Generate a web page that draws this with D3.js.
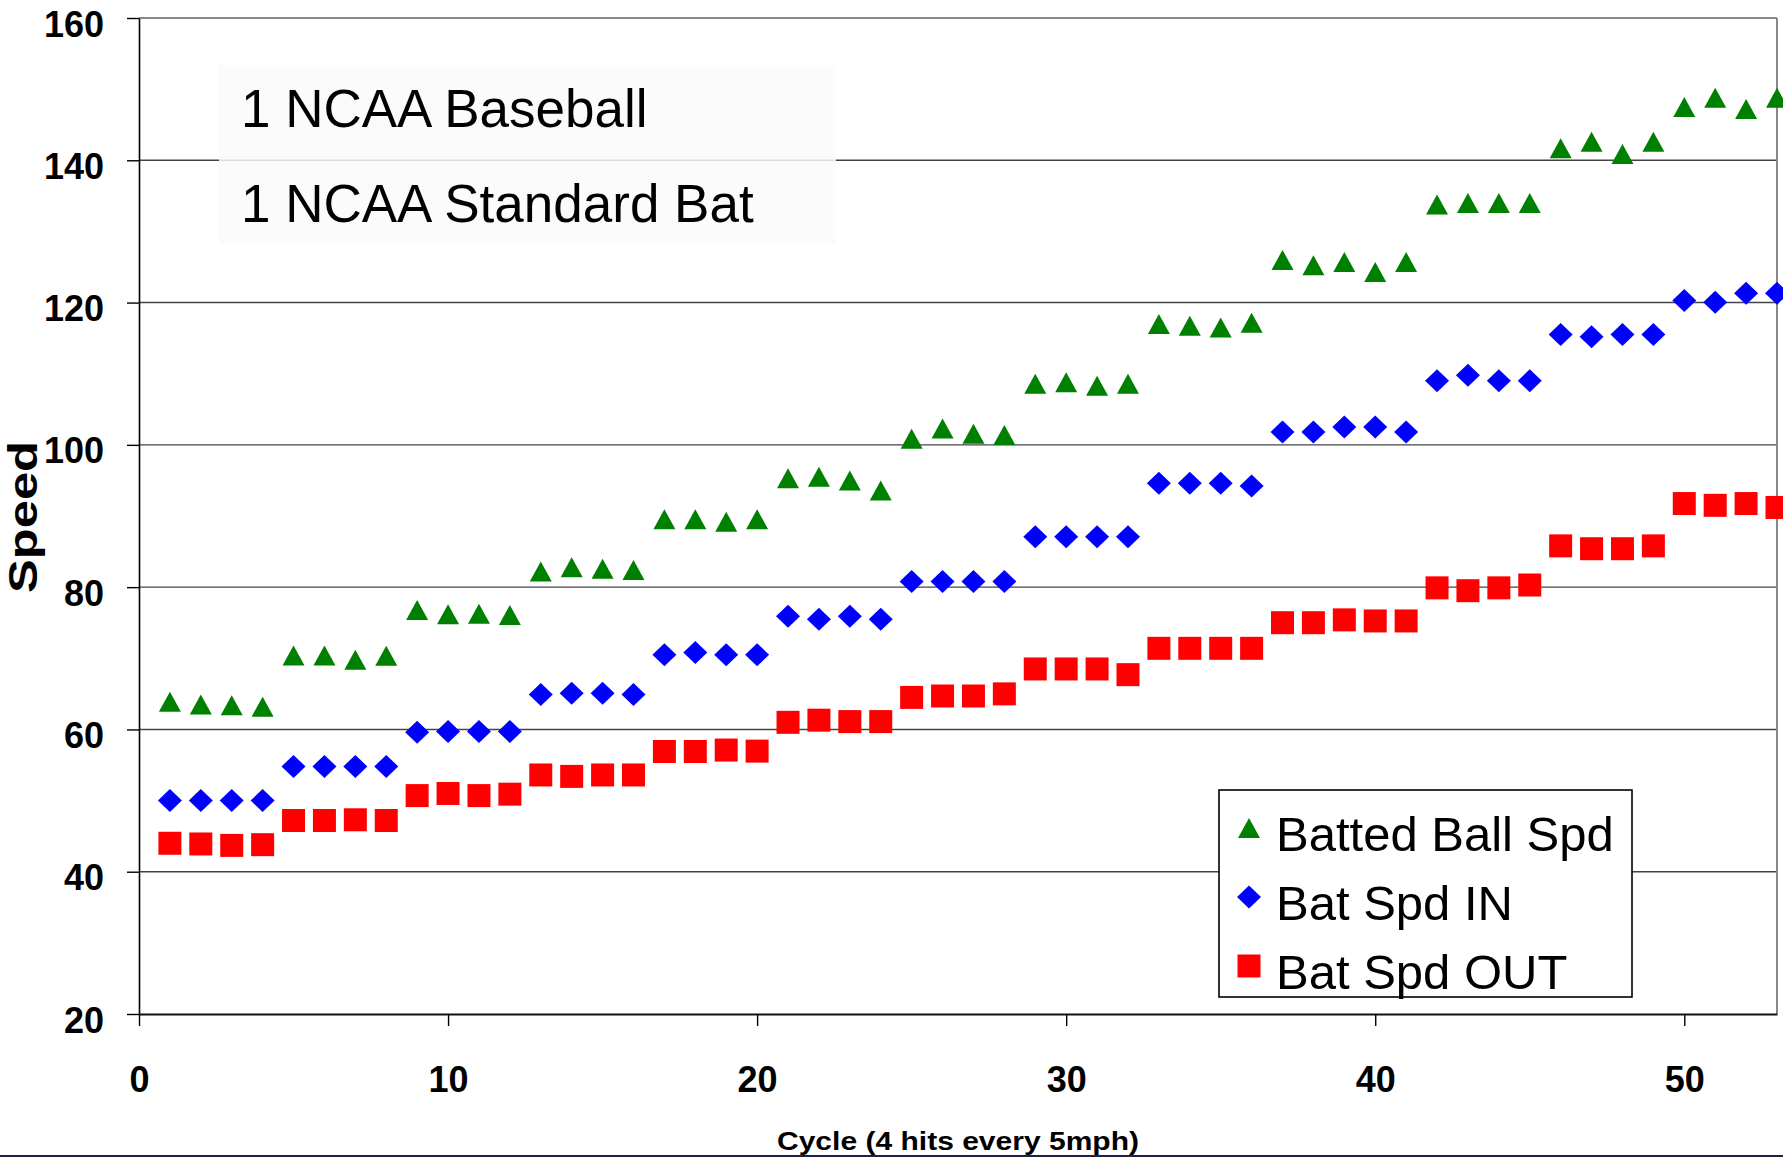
<!DOCTYPE html>
<html>
<head>
<meta charset="utf-8">
<script src="https://cdn.jsdelivr.net/npm/d3@7"></script>
<style>
  html, body { margin: 0; padding: 0; background: #ffffff; }
  svg { display: block; }
  text { font-family: "Liberation Sans", Arial, Helvetica, sans-serif; }
</style>
</head>
<body>
<svg id="chart" width="1783" height="1157"></svg>
<script>
// ---------- data ----------
const cycles = [1,2,3,4,5,6,7,8,9,10,11,12,13,14,15,16,17,18,19,20,21,22,23,24,25,26,27,28,29,30,31,32,33,34,35,36,37,38,39,40,41,42,43,44,45,46,47,48,49,50,51,52,53];

const battedBallSpd = [63.9,63.5,63.4,63.2, 70.4,70.4,69.8,70.35, 76.8,76.2,76.25,76.1, 82.2,82.8,82.6,82.4,
  89.55,89.55,89.2,89.55, 95.3,95.5,95.0,93.6, 100.85,102.3,101.55,101.4, 108.6,108.8,108.3,108.6,
  117.0,116.75,116.5,117.15, 126.0,125.25,125.7,124.3,125.7, 133.8,134.0,134.0,134.0,
  141.7,142.6,140.9,142.6, 147.5,148.8,147.2,148.8];

const batSpdIn = [50.0,50.0,50.0,50.0, 54.8,54.8,54.8,54.8, 59.6,59.7,59.7,59.7, 64.9,65.1,65.1,64.9,
  70.5,70.8,70.5,70.5, 75.9,75.5,75.9,75.5, 80.8,80.8,80.8,80.8, 87.1,87.1,87.1,87.1,
  94.6,94.6,94.6,94.2, 101.8,101.8,102.5,102.5,101.8, 109.0,109.8,109.0,109.0,
  115.5,115.2,115.5,115.5, 120.3,120.05,121.3,121.3];

const batSpdOut = [44.0,43.9,43.7,43.8, 47.2,47.2,47.3,47.2, 50.7,51.0,50.7,50.9, 53.6,53.4,53.6,53.6,
  56.9,56.9,57.1,56.95, 61.0,61.3,61.1,61.1, 64.5,64.7,64.7,65.0, 68.5,68.5,68.5,67.7,
  71.4,71.4,71.4,71.4, 75.0,75.0,75.4,75.25,75.25, 79.9,79.5,79.9,80.3,
  85.8,85.4,85.4,85.8, 91.75,91.5,91.75,91.2];

const seriesNames = ["Batted Ball Spd", "Bat Spd IN", "Bat Spd OUT"];
const yTicks = [20,40,60,80,100,120,140,160];
const xTicks = [0,10,20,30,40,50];
const annotationLines = ["1 NCAA Baseball", "1 NCAA Standard Bat"];
const xTitle = "Cycle (4 hits every 5mph)";
const yTitle = "Speed";

// ---------- layout ----------
const svg = d3.select("#chart");
const L = 139, R = 1777, T = 18, B = 1014;

const x = d3.scaleLinear().domain([0, 53]).range([L, R]);
const y = d3.scaleLinear().domain([20, 160]).range([B, T]);

const colors = { tri: "#008000", dia: "#0000ff", sq: "#ff0000" };

// gridlines
svg.append("g").selectAll("line")
  .data(yTicks.filter(v => v > 20 && v < 160))
  .join("line")
  .attr("x1", L).attr("x2", R)
  .attr("y1", d => y(d)).attr("y2", d => y(d))
  .attr("stroke", "#444").attr("stroke-width", 1.4);

// top & right border (gray)
svg.append("line").attr("x1", L).attr("x2", R).attr("y1", y(160)).attr("y2", y(160))
  .attr("stroke", "#888").attr("stroke-width", 2);
svg.append("line").attr("x1", R).attr("x2", R).attr("y1", T).attr("y2", B)
  .attr("stroke", "#888").attr("stroke-width", 2);

// annotation box
const annG = svg.append("g");
annG.append("rect").attr("x", 219).attr("y", 65).attr("width", 617).attr("height", 178)
  .attr("fill", "#fafafa").attr("opacity", 0.85);
annG.selectAll("text").data(annotationLines).join("text")
  .attr("x", 241).attr("y", (d, i) => 127 + i * 95)
  .attr("font-size", 53).attr("fill", "#000")
  .text(d => d);

// axes
const yAxis = d3.axisLeft(y).tickValues(yTicks).tickSize(12).tickSizeOuter(0);
const gy = svg.append("g").attr("transform", `translate(${L},0)`).call(yAxis);
gy.select(".domain").attr("stroke", "#000").attr("stroke-width", 1.6);
gy.selectAll(".tick line").attr("stroke", "#000").attr("stroke-width", 1.4);
gy.selectAll(".tick text")
  .attr("x", -35).attr("dy", 0).attr("y", 18)
  .attr("font-size", 36).attr("font-weight", "bold").attr("fill", "#000")
  .attr("font-family", "Liberation Sans, Arial, sans-serif");

const xAxis = d3.axisBottom(x).tickValues(xTicks).tickSize(12).tickSizeOuter(0).tickFormat(d3.format("d"));
const gx = svg.append("g").attr("transform", `translate(0,${B})`).call(xAxis);
gx.select(".domain").attr("stroke", "#111").attr("stroke-width", 2);
gx.selectAll(".tick line").attr("stroke", "#000").attr("stroke-width", 1.4);
gx.selectAll(".tick text")
  .attr("y", 78).attr("dy", 0)
  .attr("font-size", 36).attr("font-weight", "bold").attr("fill", "#000")
  .attr("font-family", "Liberation Sans, Arial, sans-serif");

// axis titles
svg.append("text")
  .attr("transform", `translate(37,517) rotate(-90)`)
  .attr("text-anchor", "middle")
  .attr("font-size", 41).attr("font-weight", "bold")
  .attr("textLength", 152).attr("lengthAdjust", "spacingAndGlyphs")
  .text(yTitle);

svg.append("text")
  .attr("x", (L + R) / 2).attr("y", 1150)
  .attr("text-anchor", "middle")
  .attr("font-size", 25).attr("font-weight", "bold")
  .attr("textLength", 362).attr("lengthAdjust", "spacingAndGlyphs")
  .text(xTitle);

// marker symbol paths
const triPath = (w, h) => `M0,${-h/2}L${w/2},${h/2}L${-w/2},${h/2}Z`;
const diaPath = (w, h) => `M0,${-h/2}L${w/2},0L0,${h/2}L${-w/2},0Z`;
const sqPath = (w, h) => `M${-w/2},${-h/2}H${w/2}V${h/2}H${-w/2}Z`;

const series = [
  { name: seriesNames[0], values: battedBallSpd, path: triPath(22, 20), color: colors.tri },
  { name: seriesNames[1], values: batSpdIn, path: diaPath(24, 23), color: colors.dia },
  { name: seriesNames[2], values: batSpdOut, path: sqPath(23, 23), color: colors.sq }
];

series.forEach(s => {
  svg.append("g").selectAll("path")
    .data(cycles.map((c, i) => ({ c, v: s.values[i] })))
    .join("path")
    .attr("d", s.path)
    .attr("transform", d => `translate(${x(d.c)},${y(d.v)})`)
    .attr("fill", s.color);
});

// legend
const lg = svg.append("g");
lg.append("rect").attr("x", 1219).attr("y", 790).attr("width", 413).attr("height", 207)
  .attr("fill", "#fff").attr("stroke", "#000").attr("stroke-width", 1.6);
const legendRows = lg.selectAll("g.row").data(series).join("g").attr("class", "row")
  .attr("transform", (d, i) => `translate(1249,${828 + i * 69})`);
legendRows.append("path").attr("d", d => d.path).attr("fill", d => d.color);
legendRows.append("text")
  .attr("x", 27).attr("y", 23)
  .attr("font-size", 49).attr("fill", "#000")
  .text(d => d.name);

// bottom frame line
svg.append("rect").attr("x", 0).attr("y", 1155).attr("width", 1783).attr("height", 2).attr("fill", "#1b2440");
</script>
</body>
</html>
